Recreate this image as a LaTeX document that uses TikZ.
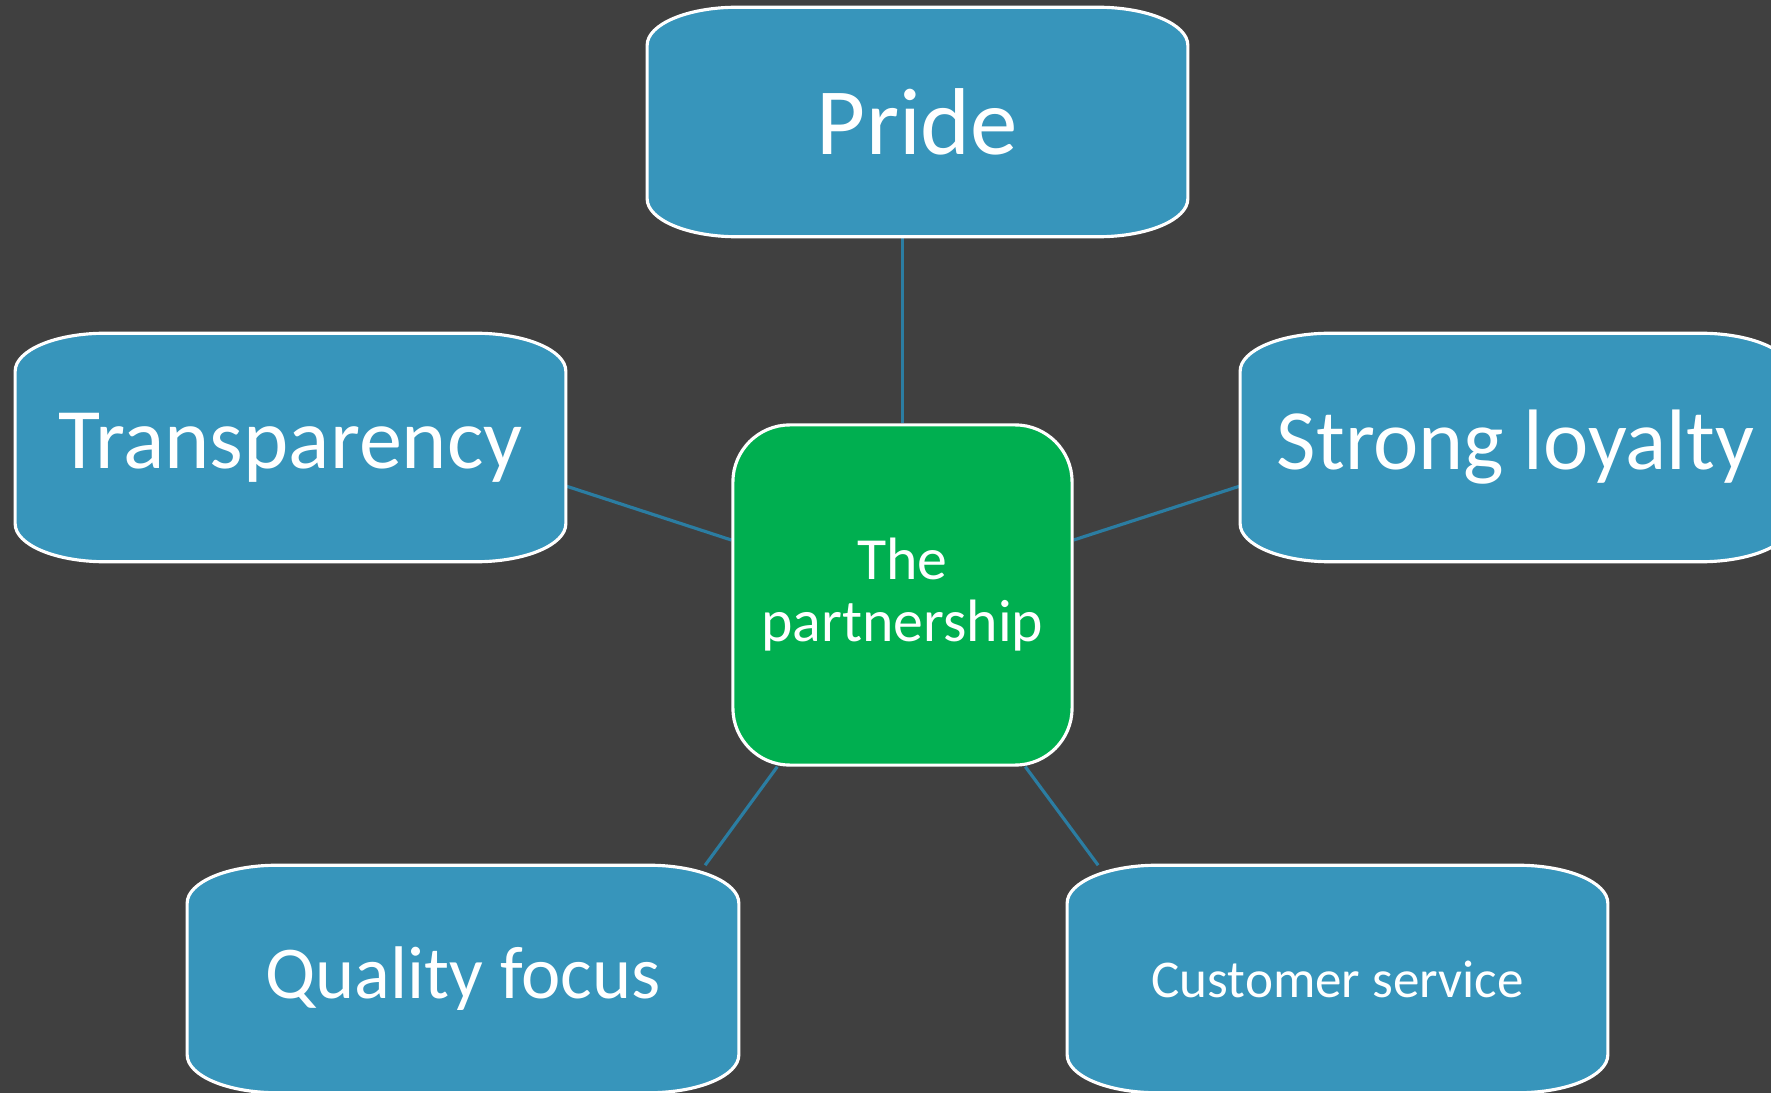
\documentclass[tikz,border=0pt]{standalone}
\usepackage{fontspec}
\setmainfont{Carlito}
\usetikzlibrary{calc}
\pgfdeclarelayer{backdrop}
\pgfdeclarelayer{links}
\pgfdeclarelayer{shapes}
\pgfsetlayers{backdrop,links,shapes,main}
\definecolor{slate}{HTML}{404040}
\definecolor{tealbox}{HTML}{3795BB}
\definecolor{leafgreen}{HTML}{00AF50}
\definecolor{linkteal}{HTML}{2B7DA2}
\tikzset{
  label text/.style={inner sep=0pt, text=white, align=center},
  boxframe/.style={fill=tealbox, draw=white, line width=0.9pt},
  hub/.style={rectangle, rounded corners=0.57cm, fill=leafgreen, draw=white,
    line width=0.9pt, text=white, align=center, inner sep=0pt,
    minimum width=3.39cm, minimum height=3.40cm},
  link/.style={draw=linkteal, line width=0.9pt},
}
% outline with elliptical corners around a text node
\newcommand\ovaloutline[1]{%
  \begin{pgfonlayer}{shapes}
  \path[boxframe] ([xshift=0.9cm]#1.north west) -- ([xshift=-0.9cm]#1.north east)
    arc[start angle=90,end angle=0,x radius=0.9cm,y radius=0.38cm]
    -- ([yshift=0.38cm]#1.south east)
    arc[start angle=0,end angle=-90,x radius=0.9cm,y radius=0.38cm]
    -- ([xshift=0.9cm]#1.south west)
    arc[start angle=270,end angle=180,x radius=0.9cm,y radius=0.38cm]
    -- ([yshift=-0.38cm]#1.north west)
    arc[start angle=180,end angle=90,x radius=0.9cm,y radius=0.38cm] -- cycle;
  \end{pgfonlayer}}
\begin{document}
\begin{tikzpicture}[x=0.01cm, y=0.01cm]
  \useasboundingbox (0,0) rectangle (1771,1093);
  \clip (0,0) rectangle (1771,1093);
  \begin{pgfonlayer}{backdrop}
    \fill[slate] (0,0) rectangle (1771,1093);
  \end{pgfonlayer}

  % outer boxes
  \node[label text, minimum width=5.39cm, minimum height=2.28cm,
    font=\fontsize{27}{31}\selectfont] (pride) at (917.5,971) {Pride};
  \node[label text, minimum width=5.49cm, minimum height=2.27cm,
    font=\fontsize{24.5}{28}\selectfont] (trans) at (290.5,645.5) {Transparency};
  \node[label text, minimum width=5.49cm, minimum height=2.27cm,
    font=\fontsize{24.4}{28}\selectfont] (loyal) at (1515.5,645.5) {Strong loyalty};
  \node[label text, minimum width=5.50cm, minimum height=2.26cm,
    font=\fontsize{21.2}{25}\selectfont] (quality) at (463,114) {Quality focus};
  \node[label text, minimum width=5.39cm, minimum height=2.26cm,
    font=\fontsize{15.1}{18}\selectfont] (service) at (1337.5,114) {Customer service};
  \ovaloutline{pride}
  \ovaloutline{trans}
  \ovaloutline{loyal}
  \ovaloutline{quality}
  \ovaloutline{service}

  % central box
  \node[hub, font=\fontsize{17}{17.6}\selectfont] (hub) at (902.5,498)
    {The\\partnership};

  % attachment points
  \coordinate (tr1) at ($(trans.east)+(0,-38.5)$);
  \coordinate (tr2) at ($(hub.west)+(0,55)$);
  \coordinate (lo1) at ($(loyal.west)+(0,-38.5)$);
  \coordinate (lo2) at ($(hub.east)+(0,55)$);
  \coordinate (qu1) at ($(hub.south west)+(46,0)$);
  \coordinate (qu2) at ($(quality.north west)+(518,0)$);
  \coordinate (se1) at ($(hub.south west)+(294,0)$);
  \coordinate (se2) at ($(service.north west)+(31,0)$);

  \begin{pgfonlayer}{links}
    \draw[link] (hub.north) -- (hub.north |- pride.south);
    \draw[link] (tr1) -- (tr2);
    \draw[link] (lo2) -- (lo1);
    \draw[link] (qu1) -- (qu2);
    \draw[link] (se1) -- (se2);
  \end{pgfonlayer}
\end{tikzpicture}
\end{document}
